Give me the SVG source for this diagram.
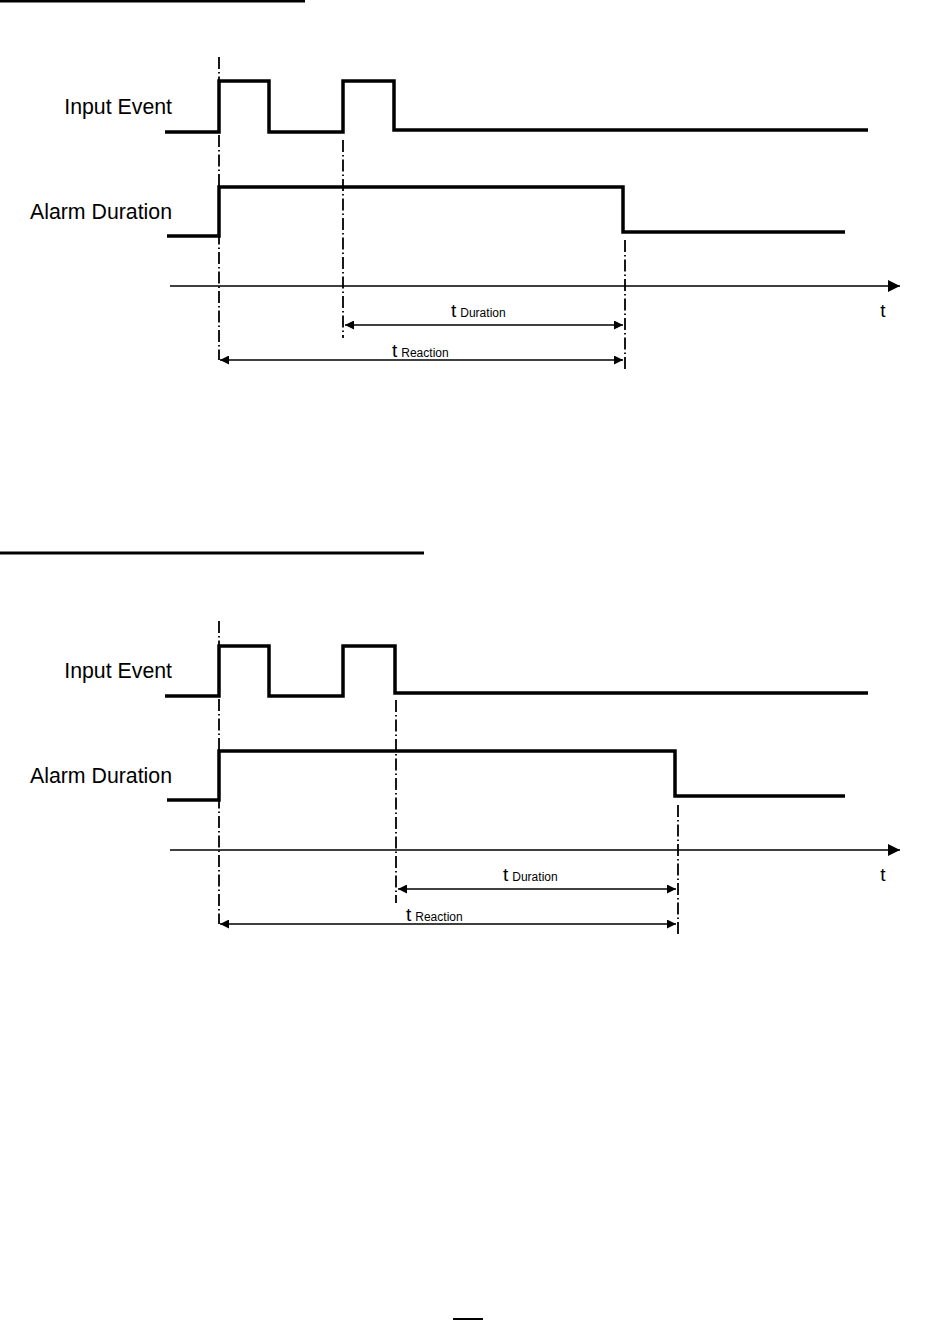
<svg xmlns="http://www.w3.org/2000/svg" width="934" height="1320" viewBox="0 0 934 1320">
<style>
.sig{fill:none;stroke:#000;stroke-width:3.5;stroke-linejoin:miter}
.ax{fill:none;stroke:#000;stroke-width:1.4}
.dd{fill:none;stroke:#000;stroke-width:1.8;stroke-dasharray:12 3 1.5 3}
.dim{fill:none;stroke:#000;stroke-width:1.3}
.rule{stroke:#000;stroke-width:3}
.lbl{font-family:"Liberation Sans",Arial,sans-serif;font-size:21.3px;fill:#000}
.tt{font-family:"Liberation Sans",Arial,sans-serif;font-size:19px;fill:#000}
.sub{font-family:"Liberation Sans",Arial,sans-serif;font-size:12px;fill:#000}
</style>
<defs>
<marker id="ah" viewBox="0 0 10 10" refX="10" refY="5" markerWidth="11" markerHeight="9" markerUnits="userSpaceOnUse" orient="auto-start-reverse">
<path d="M0,0 L10,5 L0,10 Z" fill="#000"/>
</marker>
<marker id="axh" viewBox="0 0 10 10" refX="10" refY="5" markerWidth="18" markerHeight="12" markerUnits="userSpaceOnUse" orient="auto">
<path d="M0,0 L10,5 L0,10 Z" fill="#000"/>
</marker>
</defs>
<line class="rule" x1="0" y1="1" x2="305" y2="1"/>
<line class="rule" x1="0" y1="553" x2="424" y2="553"/>
<line x1="453" y1="1319" x2="483" y2="1319" stroke="#000" stroke-width="2"/>

<g id="diagram1">
<g id="d1-input">
<text class="lbl" x="172" y="114" text-anchor="end">Input Event</text>
<polyline class="sig" points="165,132 219,132 219,81 269,81 269,132 343,132 343,81 394,81 394,130 868,130"/>
</g>
<g id="d1-alarm">
<text class="lbl" x="172" y="219" text-anchor="end">Alarm Duration</text>
<polyline class="sig" points="167,236 219,236 219,187 623,187 623,232 845,232"/>
</g>
<g id="d1-axis">
<line class="ax" x1="170" y1="286" x2="900" y2="286" marker-end="url(#axh)"/>
<text class="tt" x="883" y="317" text-anchor="middle">t</text>
</g>
<g id="d1-connectors">
<line class="dd" x1="219" y1="57" x2="219" y2="360"/>
<line class="dd" x1="343" y1="140" x2="343" y2="338"/>
<line class="dd" x1="625" y1="240" x2="625" y2="372"/>
<line class="dim" x1="345" y1="325" x2="623" y2="325" marker-start="url(#ah)" marker-end="url(#ah)"/>
<line class="dim" x1="220" y1="360" x2="623" y2="360" marker-start="url(#ah)" marker-end="url(#ah)"/>
</g>
<g id="d1-labels">
<text x="451" y="317"><tspan class="tt">t</tspan><tspan class="sub" dx="4">Duration</tspan></text>
<text x="392" y="357"><tspan class="tt">t</tspan><tspan class="sub" dx="4">Reaction</tspan></text>
</g>
</g>

<g id="diagram2">
<g id="d2-input">
<text class="lbl" x="172" y="678" text-anchor="end">Input Event</text>
<polyline class="sig" points="165,696 219,696 219,646 269,646 269,696 343,696 343,646 395,646 395,693 868,693"/>
</g>
<g id="d2-alarm">
<text class="lbl" x="172" y="783" text-anchor="end">Alarm Duration</text>
<polyline class="sig" points="167,800 219,800 219,751 675,751 675,796 845,796"/>
</g>
<g id="d2-axis">
<line class="ax" x1="170" y1="850" x2="900" y2="850" marker-end="url(#axh)"/>
<text class="tt" x="883" y="881" text-anchor="middle">t</text>
</g>
<g id="d2-connectors">
<line class="dd" x1="219" y1="621" x2="219" y2="924"/>
<line class="dd" x1="396" y1="700" x2="396" y2="903"/>
<line class="dd" x1="678" y1="805" x2="678" y2="936"/>
<line class="dim" x1="398" y1="889" x2="676" y2="889" marker-start="url(#ah)" marker-end="url(#ah)"/>
<line class="dim" x1="220" y1="924" x2="676" y2="924" marker-start="url(#ah)" marker-end="url(#ah)"/>
</g>
<g id="d2-labels">
<text x="503" y="881"><tspan class="tt">t</tspan><tspan class="sub" dx="4">Duration</tspan></text>
<text x="406" y="921"><tspan class="tt">t</tspan><tspan class="sub" dx="4">Reaction</tspan></text>
</g>
</g>
</svg>
